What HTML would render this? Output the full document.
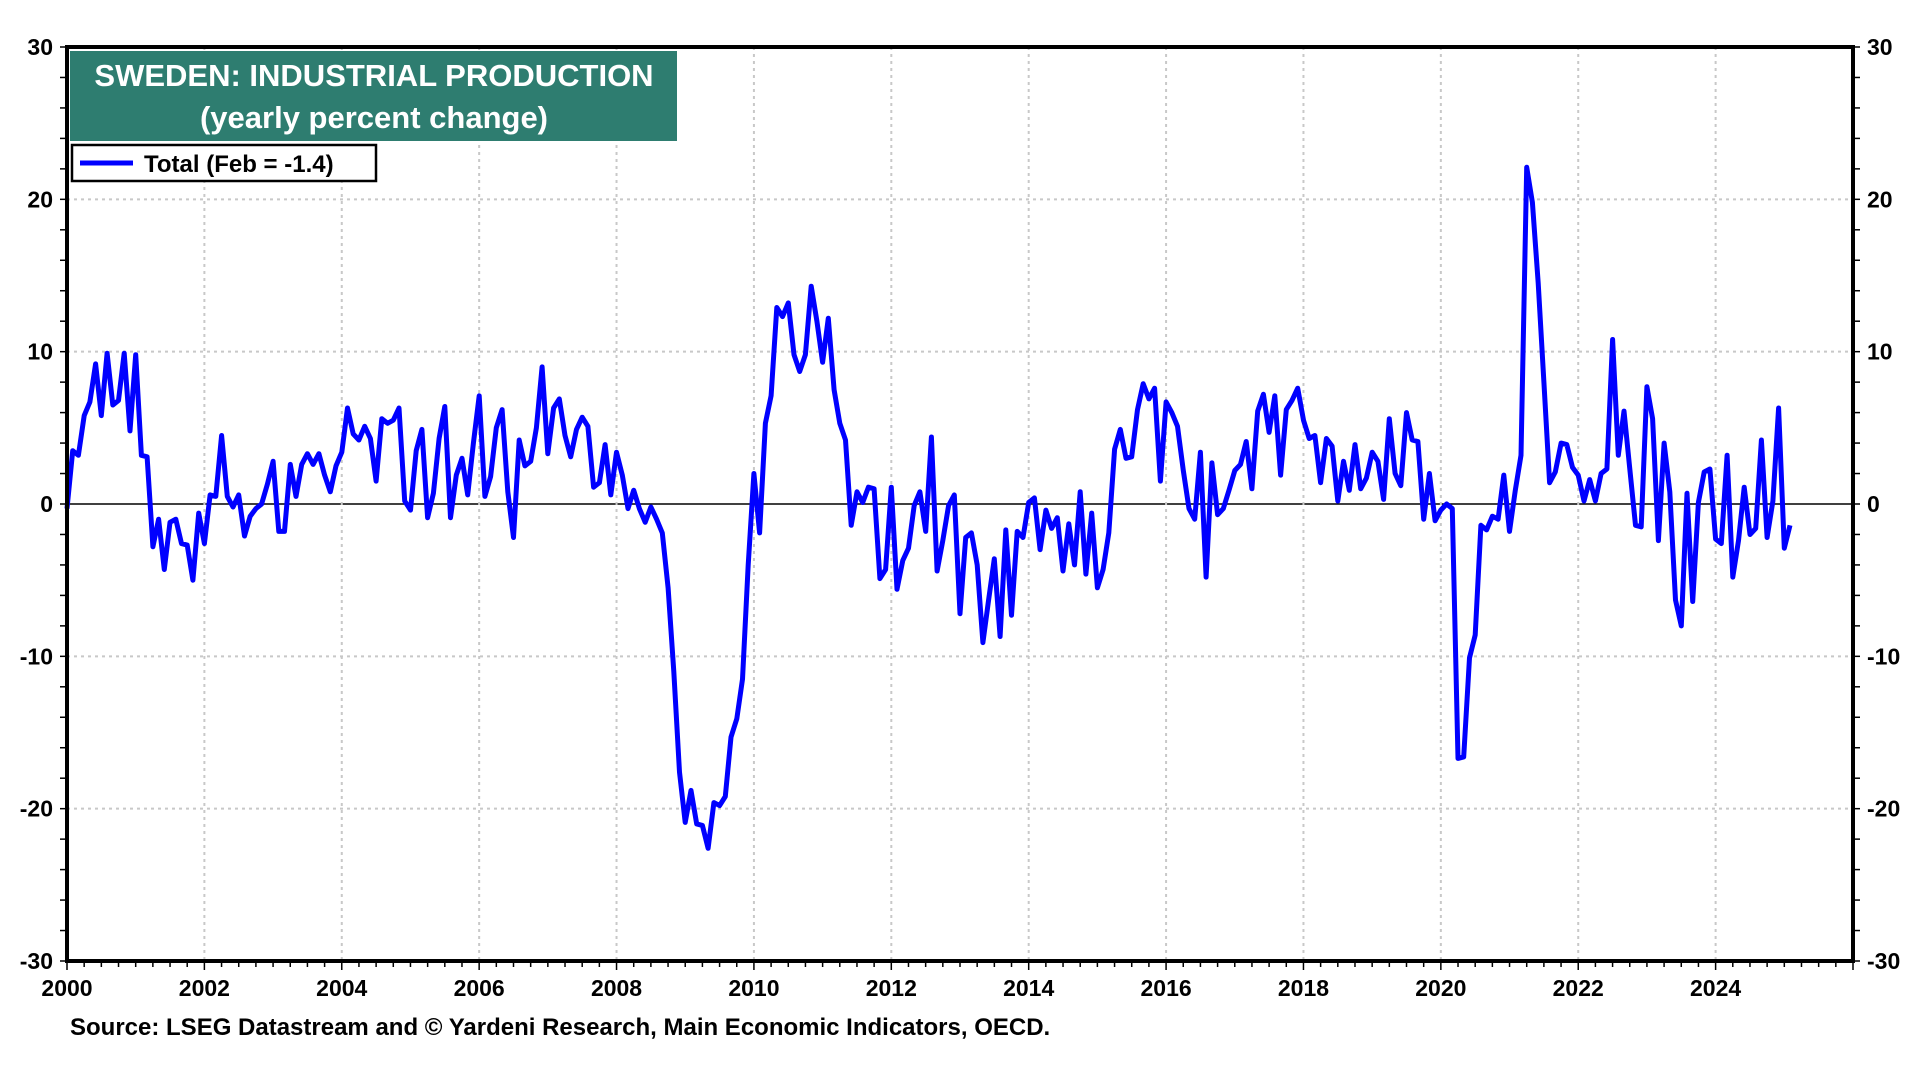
<!DOCTYPE html>
<html><head><meta charset="utf-8"><style>
body{margin:0;background:#fff;}
svg text{font-family:"Liberation Sans",Arial,sans-serif;font-weight:bold;}
</style></head><body>
<svg id="chart" width="1920" height="1080" viewBox="0 0 1920 1080" xmlns="http://www.w3.org/2000/svg">
<g id="grid"></g>
<g id="axes"></g>
<path id="series" fill="none" stroke="#0000ff" stroke-width="5" stroke-linejoin="round"/>
<rect x="67" y="47" width="1786" height="914" fill="none" stroke="#000" stroke-width="4"/>
<g>
<rect x="70" y="51" width="607" height="90" fill="#2e7d70"/>
<text x="374" y="86" text-anchor="middle" fill="#fff" font-size="31">SWEDEN: INDUSTRIAL PRODUCTION</text>
<text x="374" y="128" text-anchor="middle" fill="#fff" font-size="31">(yearly percent change)</text>
</g>
<g>
<rect x="72" y="145" width="304" height="36" fill="#fff" stroke="#000" stroke-width="2.5"/>
<line x1="80" y1="163" x2="133" y2="163" stroke="#0000ff" stroke-width="5"/>
<text x="144" y="172" font-size="24">Total (Feb = -1.4)</text>
</g>
<text x="70" y="1035" font-size="24">Source: LSEG Datastream and © Yardeni Research, Main Economic Indicators, OECD.</text>
</svg>
<script>
const yTicks = [30, 20, 10, 0, -10, -20, -30];
const xYears = [2000, 2002, 2004, 2006, 2008, 2010, 2012, 2014, 2016, 2018, 2020, 2022, 2024];
const startYear = 2000;
const values2000s = [-0.3,3.5,3.2,5.8,6.7,9.2,5.8,9.9,6.5,6.8,9.9,4.8,
9.8,3.2,3.1,-2.8,-1.0,-4.3,-1.2,-1.0,-2.6,-2.7,-5.0,-0.6,
-2.6,0.6,0.5,4.5,0.5,-0.2,0.6,-2.1,-0.8,-0.3,0.0,1.3,
2.8,-1.8,-1.8,2.6,0.5,2.6,3.3,2.6,3.3,1.9,0.8,2.5,
3.4,6.3,4.6,4.2,5.1,4.3,1.5,5.6,5.3,5.5,6.3,0.2,
-0.4,3.5,4.9,-0.9,0.7,4.3,6.4,-0.9,1.9,3.0,0.6,4.0,
7.1,0.5,1.8,5.0,6.2,0.8,-2.2,4.2,2.5,2.8,5.0,9.0,
3.3,6.3,6.9,4.5,3.1,4.9,5.7,5.1,1.1,1.4,3.9,0.6,
3.4,1.9,-0.3,0.9,-0.3,-1.2,-0.2,-1.0,-1.9,-5.5,-11.0,-17.6,
-20.9,-18.8,-21.0,-21.1,-22.6,-19.6,-19.8,-19.2,-15.3,-14.1,-11.5,-4.0];
const values2010s = [2.0,-1.9,5.3,7.1,12.9,12.3,13.2,9.8,8.7,9.8,14.3,12.0,
9.3,12.2,7.5,5.3,4.2,-1.4,0.8,0.1,1.1,1.0,-4.9,-4.3,
1.1,-5.6,-3.7,-2.9,-0.1,0.8,-1.8,4.4,-4.4,-2.4,-0.1,0.6,
-7.2,-2.2,-1.9,-4.0,-9.1,-6.3,-3.6,-8.7,-1.7,-7.3,-1.8,-2.2,
0.1,0.4,-3.0,-0.4,-1.6,-0.9,-4.4,-1.3,-4.0,0.8,-4.6,-0.6,
-5.5,-4.3,-1.9,3.6,4.9,3.0,3.1,6.2,7.9,6.9,7.6,1.5,
6.7,6.0,5.1,2.2,-0.3,-1.0,3.4,-4.8,2.7,-0.7,-0.3,0.9,
2.2,2.6,4.1,1.0,6.1,7.2,4.7,7.1,1.9,6.2,6.8,7.6,
5.5,4.3,4.5,1.4,4.3,3.8,0.2,2.8,0.9,3.9,1.0,1.7,
3.4,2.8,0.3,5.6,2.0,1.2,6.0,4.2,4.1,-1.0,2.0,-1.1];
const values2020s = [-0.4,0.0,-0.3,-16.7,-16.6,-10.1,-8.6,-1.4,-1.7,-0.8,-1.0,1.9,
-1.8,0.9,3.2,22.1,19.8,14.5,8.0,1.4,2.1,4.0,3.9,2.4,
1.9,0.2,1.6,0.2,2.0,2.3,10.8,3.2,6.1,2.3,-1.4,-1.5,
7.7,5.6,-2.4,4.0,0.8,-6.3,-8.0,0.7,-6.4,0.1,2.1,2.3,
-2.3,-2.6,3.2,-4.8,-2.4,1.1,-2.0,-1.6,4.2,-2.2,0.2,6.3,
-2.9,-1.4];
const values = values2000s.concat(values2010s, values2020s);

const L=67,R=1853,T=47,B=961,X0=2000,X1=2026,Y0=-30,Y1=30;
const xs = t => L + (t - X0) / (X1 - X0) * (R - L);
const ys = v => B - (v - Y0) / (Y1 - Y0) * (B - T);
const NS="http://www.w3.org/2000/svg";
function mk(tag, attrs, parent){const e=document.createElementNS(NS,tag);for(const k in attrs)e.setAttribute(k,attrs[k]);parent.appendChild(e);return e;}
const grid=document.getElementById('grid'), axes=document.getElementById('axes');
yTicks.forEach(v=>{
  const y=ys(v);
  if(v>Y0&&v<Y1){
    const g=mk('line',{x1:L,x2:R,y1:y,y2:y,stroke:v===0?'#000':'#c8c8c8','stroke-width':v===0?1.5:2,'stroke-dasharray':v===0?'':'3,4'},grid);
    
    
  }
  const tl=mk('text',{x:L-14,y:y+8,'text-anchor':'end','font-size':23},axes);tl.textContent=v;
  
  
  const tr=mk('text',{x:R+14,y:y+8,'text-anchor':'start','font-size':23},axes);tr.textContent=v;
  
  
});
for(let v=Y0;v<=Y1;v+=2){const y=ys(v);
  mk('line',{x1:L-7,x2:L,y1:y,y2:y,stroke:'#000','stroke-width':1.5},axes);
  mk('line',{x1:R,x2:R+7,y1:y,y2:y,stroke:'#000','stroke-width':1.5},axes);}
for(let q=X0*4;q<=X1*4;q++){const x=xs(q/4);
  mk('line',{x1:x,x2:x,y1:B,y2:B+(q%8===0?9:6),stroke:'#000','stroke-width':1.5},axes);}
xYears.forEach(yr=>{
  const x=xs(yr);
  if(yr>X0){const g=mk('line',{x1:x,x2:x,y1:T,y2:B,stroke:'#c8c8c8','stroke-width':2,'stroke-dasharray':'3,4'},grid);
    
    }
  const t=mk('text',{x:x,y:B+35,'text-anchor':'middle','font-size':23},axes);t.textContent=yr;
  
  
});
document.getElementById('series').setAttribute('d', values.map((v,i)=>(i?'L':'M')+xs(startYear+i/12).toFixed(1)+','+ys(v).toFixed(1)).join(''));
</script>
</body></html>
